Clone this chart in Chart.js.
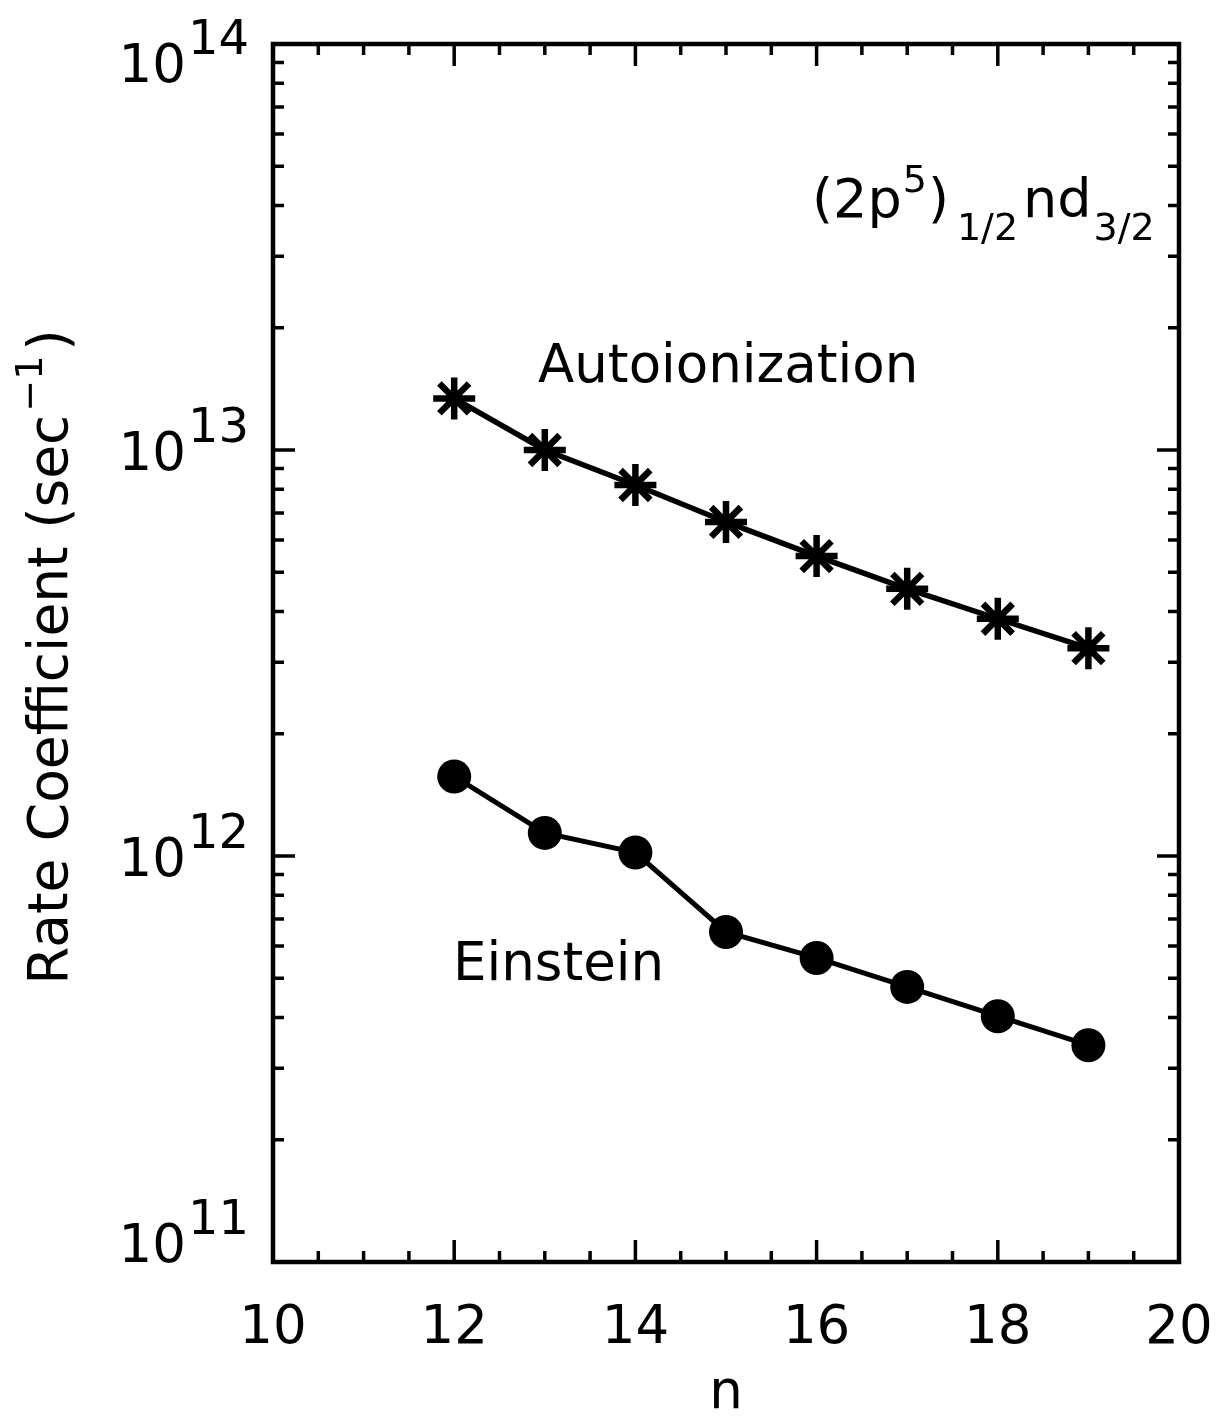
<!DOCTYPE html>
<html>
<head>
<meta charset="utf-8">
<script src="https://cdn.jsdelivr.net/npm/chart.js@4.4.1/dist/chart.umd.min.js"></script>
<style>
  html, body { margin: 0; padding: 0; background: #fff; }
  #wrap { width: 1220px; height: 1418px; }
</style>
</head>
<body>
<div id="wrap"><canvas id="c" width="1220" height="1418"></canvas></div>
<script>
// ---- data ----
const nValues = [12, 13, 14, 15, 16, 17, 18, 19];
const autoionization = [1.34e13, 1.0e13, 8.2e12, 6.65e12, 5.48e12, 4.55e12, 3.84e12, 3.25e12];
const einstein = [1.57e12, 1.14e12, 1.02e12, 6.5e11, 5.61e11, 4.76e11, 4.03e11, 3.42e11];
const xTickLabels = [10, 12, 14, 16, 18, 20];
const yTickExponents = [11, 12, 13, 14];
const xTitle = 'n';
const yTitle = 'Rate Coefficient (sec';
const labelAuto = 'Autoionization';
const labelEinstein = 'Einstein';

const FONT = '"DejaVu Sans", sans-serif';

const toPoints = (ys) => nValues.map((n, i) => ({ x: n, y: ys[i] }));

const overlay = {
  id: 'overlay',
  afterDatasetsDraw(chart) {
    const ctx = chart.ctx;
    const xs = chart.scales.x, ys = chart.scales.y;
    const a = chart.chartArea;
    ctx.save();
    ctx.strokeStyle = '#000';
    ctx.fillStyle = '#000';
    // frame
    ctx.lineWidth = 4.5;
    ctx.lineJoin = 'miter';
    ctx.strokeRect(a.left, a.top, a.right - a.left, a.bottom - a.top);

    ctx.lineWidth = 3.5;
    ctx.lineCap = 'butt';
    // x ticks (major every 2, minor every 0.5)
    for (let v = 10; v <= 20.001; v += 0.5) {
      const px = xs.getPixelForValue(v);
      const major = Math.abs(v / 2 - Math.round(v / 2)) < 1e-6;
      const len = major ? 22 : 11;
      ctx.beginPath();
      ctx.moveTo(px, a.bottom); ctx.lineTo(px, a.bottom - len);
      ctx.moveTo(px, a.top); ctx.lineTo(px, a.top + len);
      ctx.stroke();
    }
    // y ticks (log)
    for (let e = 11; e <= 14; e++) {
      for (let m = 1; m <= 9; m++) {
        if (e === 14 && m > 1) break;
        const v = m * Math.pow(10, e);
        const py = ys.getPixelForValue(v);
        const len = m === 1 ? 22 : 11;
        ctx.beginPath();
        ctx.moveTo(a.left, py); ctx.lineTo(a.left + len, py);
        ctx.moveTo(a.right, py); ctx.lineTo(a.right - len, py);
        ctx.stroke();
      }
    }

    // x tick labels
    ctx.font = `53px ${FONT}`;
    ctx.textAlign = 'center';
    ctx.textBaseline = 'alphabetic';
    xTickLabels.forEach(v => {
      ctx.fillText(String(v), xs.getPixelForValue(v), a.bottom + 81);
    });

    // y tick labels: 10^e
    yTickExponents.forEach(e => {
      const py = ys.getPixelForValue(Math.pow(10, e));
      let base;
      if (e === yTickExponents[yTickExponents.length - 1]) base = py + 38;
      else if (e === yTickExponents[0]) base = py;
      else base = py + 20;
      ctx.textAlign = 'left';
      ctx.font = `48px ${FONT}`;
      const supW = ctx.measureText(String(e)).width;
      ctx.font = `53px ${FONT}`;
      const w10 = ctx.measureText('10').width;
      const right = a.left - 24;
      const supX = right - supW;
      const baseX = supX - 2 - w10;
      ctx.fillText('10', baseX, base);
      ctx.font = `48px ${FONT}`;
      ctx.fillText(String(e), supX, base - 28);
    });

    // x title
    ctx.textAlign = 'center';
    ctx.font = `53px ${FONT}`;
    ctx.fillText(xTitle, (a.left + a.right) / 2, 1408);

    // y title rotated
    ctx.save();
    ctx.translate(67, 657);
    ctx.rotate(-Math.PI / 2);
    ctx.font = `55px ${FONT}`;
    const t1 = yTitle;
    const w1 = ctx.measureText(t1).width;
    ctx.font = `38px ${FONT}`;
    const sup = '\u22121';
    const w2 = ctx.measureText(sup).width;
    ctx.font = `55px ${FONT}`;
    const w3 = ctx.measureText(')').width;
    const total = w1 + w2 + 8 + w3;
    let x0 = -total / 2;
    ctx.textAlign = 'left';
    ctx.fillText(t1, x0, 0);
    ctx.font = `38px ${FONT}`;
    ctx.fillText(sup, x0 + w1 + 3, -25);
    ctx.font = `55px ${FONT}`;
    ctx.fillText(')', x0 + w1 + w2 + 8, 0);
    ctx.restore();

    // annotations
    ctx.textAlign = 'left';
    ctx.font = `53px ${FONT}`;
    ctx.fillText(labelAuto, 538, 382);
    ctx.fillText(labelEinstein, 453, 980);

    // (2p^5)_{1/2} nd_{3/2}
    let x = 812;
    const bl = 217;
    ctx.font = `54px ${FONT}`;
    ctx.fillText('(2p', x, bl); x += ctx.measureText('(2p').width + 1;
    ctx.font = `38px ${FONT}`;
    ctx.fillText('5', x, bl - 25); x += ctx.measureText('5').width + 1;
    ctx.font = `54px ${FONT}`;
    ctx.fillText(')', x, bl); x += ctx.measureText(')').width + 8;
    ctx.font = `38px ${FONT}`;
    ctx.fillText('1/2', x, bl + 23); x += ctx.measureText('1/2').width + 5;
    ctx.font = `54px ${FONT}`;
    ctx.fillText('nd', x, bl); x += ctx.measureText('nd').width + 2;
    ctx.font = `38px ${FONT}`;
    ctx.fillText('3/2', x, bl + 23);

    ctx.restore();
  }
};

new Chart(document.getElementById('c'), {
  type: 'line',
  data: {
    datasets: [
      {
        label: labelAuto,
        data: toPoints(autoionization),
        borderColor: '#000',
        backgroundColor: '#000',
        borderWidth: 5.5,
        pointStyle: 'star',
        pointRadius: 21,
        pointBorderWidth: 6.5,
        pointBorderColor: '#000',
        tension: 0
      },
      {
        label: labelEinstein,
        data: toPoints(einstein),
        borderColor: '#000',
        backgroundColor: '#000',
        borderWidth: 5,
        pointStyle: 'circle',
        pointRadius: 17,
        pointBorderWidth: 0,
        pointBackgroundColor: '#000',
        tension: 0
      }
    ]
  },
  options: {
    responsive: false,
    animation: false,
    devicePixelRatio: 1,
    layout: { padding: { left: 273, right: 41, top: 44, bottom: 156 } },
    plugins: { legend: { display: false }, tooltip: { enabled: false } },
    scales: {
      x: { type: 'linear', min: 10, max: 20, display: false },
      y: { type: 'logarithmic', min: 1e11, max: 1e14, display: false }
    }
  },
  plugins: [overlay]
});
</script>
</body>
</html>
